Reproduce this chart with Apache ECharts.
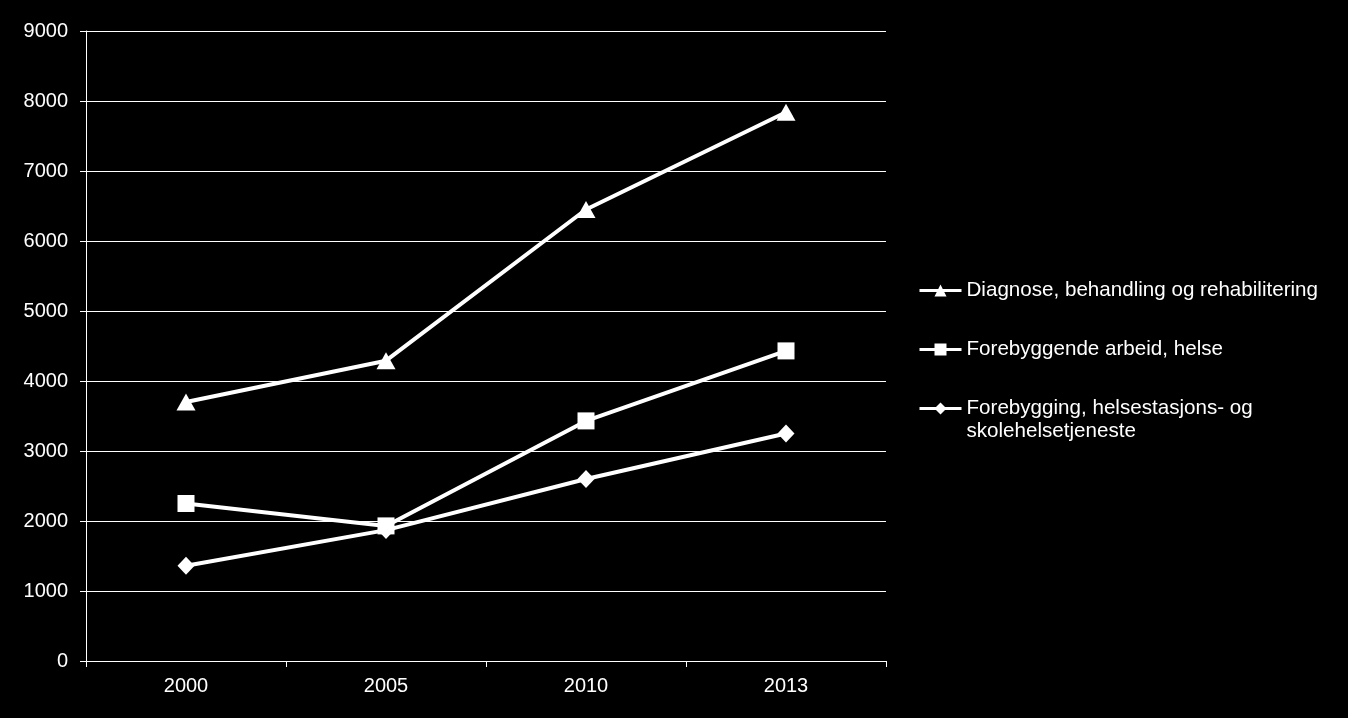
<!DOCTYPE html>
<html>
<head>
<meta charset="utf-8">
<style>
  html, body { margin: 0; padding: 0; background: #000; }
  #chart { width: 1348px; height: 718px; }
</style>
<script src="https://cdn.jsdelivr.net/npm/echarts@6/dist/echarts.min.js"></script>
</head>
<body>
<div id="chart"></div>
<script>
// categories (years)
const years = ['2000', '2005', '2010', '2013']

// series values
const diagnose = [3700, 4290, 6450, 7840]
const forebyggendeArbeid = [2250, 1930, 3430, 4430]
const helsestasjon = [1360, 1870, 2600, 3250]

// series names
const names = [
  'Diagnose, behandling og rehabilitering',
  'Forebyggende arbeid, helse',
  'Forebygging, helsestasjons- og skolehelsetjeneste',
]

const FONT = "'Liberation Sans', Arial, sans-serif"
const WHITE = '#ffffff'

const chart = echarts.init(document.getElementById('chart'))

const line = (name, data, symbol, size) => ({
  name,
  type: 'line',
  data,
  symbol,
  symbolSize: size,
  showSymbol: true,
  lineStyle: { color: WHITE, width: 4 },
  itemStyle: { color: WHITE },
  animation: false,
})

const legendText = {
  color: WHITE,
  fontSize: 20.6,
  fontFamily: FONT,
  lineHeight: 23,
}

const legend = (name, top, formatter) => ({
  data: [name],
  orient: 'vertical',
  left: 918,
  top,
  padding: 0,
  itemWidth: 42,
  itemHeight: 15,
  selectedMode: false,
  lineStyle: { width: 3 },
  textStyle: legendText,
  formatter: formatter || '{name}',
})

chart.setOption({
  backgroundColor: '#000000',
  grid: {
    left: 86,
    right: 462,
    top: 31,
    bottom: 57,
    containLabel: false,
  },
  legend: [
    legend(names[0], 279),
    legend(names[1], 338),
    legend(names[2], 374, () => '\nForebygging, helsestasjons- og\nskolehelsetjeneste'),
  ],
  xAxis: {
    type: 'category',
    data: years,
    boundaryGap: true,
    axisLine: { lineStyle: { color: WHITE, width: 1 } },
    axisTick: { show: true, length: 6, lineStyle: { color: WHITE } },
    axisLabel: { color: WHITE, fontSize: 20, fontFamily: FONT, margin: 15 },
    splitLine: { show: false },
  },
  yAxis: {
    type: 'value',
    min: 0,
    max: 9000,
    interval: 1000,
    axisLine: { show: true, lineStyle: { color: WHITE, width: 1 } },
    axisTick: { show: true, length: 6, lineStyle: { color: WHITE } },
    axisLabel: {
      color: WHITE,
      fontSize: 20,
      fontFamily: FONT,
      margin: 18,
      formatter: (v) => String(v),
    },
    splitLine: { show: true, lineStyle: { color: WHITE, width: 1 } },
  },
  series: [
    line(names[0], diagnose, 'triangle', [19, 17]),
    line(names[1], forebyggendeArbeid, 'rect', 17),
    line(names[2], helsestasjon, 'diamond', [17, 18]),
  ],
})
</script>
</body>
</html>
